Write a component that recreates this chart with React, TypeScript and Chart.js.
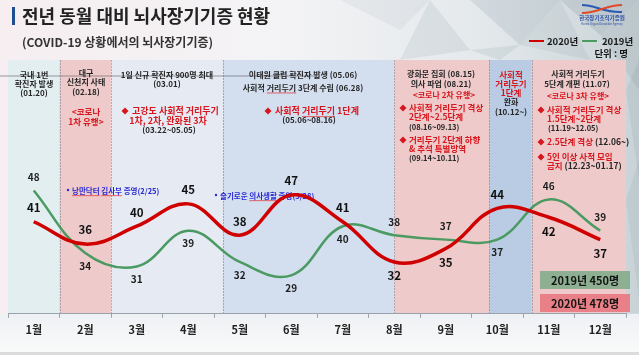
import React, { useEffect, useRef } from "react";
import { Chart, registerables } from "chart.js";
Chart.register(...registerables);

const FONT = '"Noto Sans CJK KR", "Noto Sans", sans-serif';

// ---- data ----
const months = ["1월", "2월", "3월", "4월", "5월", "6월", "7월", "8월", "9월", "10월", "11월", "12월"];
const donors2020 = [41, 36, 40, 45, 38, 47, 41, 32, 35, 44, 42, 37];
const donors2019 = [48, 34, 31, 39, 32, 29, 40, 38, 37, 37, 46, 39];
const labelSide2020 = ["up", "up", "up", "up", "up", "up", "up", "down", "down", "up", "down", "down"];
const labelSide2019 = ["up", "down", "down", "down", "down", "down", "down", "up", "up", "down", "up", "up"];

// COVID-19 periods (in month-index units) and their shading
const periodStart = [-0.5, 0.5, 1.5, 3.67, 7.0, 8.84, 9.67];
const periodEnd = [0.5, 1.5, 3.67, 7.0, 8.84, 9.67, 11.5];
const periodColors = ["#e2eef0", "#eecaca", "#e6eaf3", "#d3deef", "#efcacb", "#b9cce3", "#efcacb"];

const D = "#262626";
const R = "#d8161d";
const B = "#2a2ad4";

type Part = [string, string, boolean?];
type Note = { x: number; y: number; align: "left" | "center"; size: number; parts: Part[] };

const notes: Note[] = [
  { x: 34, y: 75, align: "center", size: 8, parts: [["국내 1번", D]] },
  { x: 34, y: 84, align: "center", size: 8, parts: [["확진자 발생", D]] },
  { x: 34, y: 93, align: "center", size: 8, parts: [["(01.20)", D]] },

  { x: 86, y: 73, align: "center", size: 8, parts: [["대구", D]] },
  { x: 86, y: 82, align: "center", size: 8, parts: [["신천지 사태", D]] },
  { x: 86, y: 92, align: "center", size: 8, parts: [["(02.18)", D]] },
  { x: 86, y: 112, align: "center", size: 8.5, parts: [["<코로나", R]] },
  { x: 86, y: 122, align: "center", size: 8.5, parts: [["1차 유행>", R]] },

  { x: 167, y: 75, align: "center", size: 8, parts: [["1일 신규 확진자 900명 최대", D]] },
  { x: 167, y: 84, align: "center", size: 8, parts: [["(03.01)", D]] },
  { x: 132, y: 111, align: "left", size: 9, parts: [["고강도 사회적 거리두기", R]] },
  { x: 168, y: 121, align: "center", size: 9, parts: [["1차, 2차, 완화된 3차", R]] },
  { x: 169, y: 130, align: "center", size: 8, parts: [["(03.22~05.05)", D]] },

  { x: 303, y: 75, align: "center", size: 8, parts: [["이태원 클럽 확진자 발생 (05.06)", D]] },
  { x: 303, y: 88, align: "center", size: 8, parts: [["사회적 ", D], ["거리두기", D, true], [" 3단계 수립 (06.28)", D]] },
  { x: 275, y: 111, align: "left", size: 9, parts: [["사회적 ", R], ["거리두기", R, true], [" 1단계", R]] },
  { x: 309, y: 120, align: "center", size: 8, parts: [["(05.06~08.16)", D]] },

  { x: 441, y: 74, align: "center", size: 8, parts: [["광화문 집회 (08.15)", D]] },
  { x: 441, y: 84, align: "center", size: 8, parts: [["의사 파업 (08.21)", D]] },
  { x: 444, y: 95, align: "center", size: 8, parts: [["<코로나 2차 유행>", R]] },
  { x: 409, y: 108, align: "left", size: 8.5, parts: [["사회적 거리두기 격상", R]] },
  { x: 409, y: 117, align: "left", size: 8.5, parts: [["2단계~2.5단계", R]] },
  { x: 409, y: 127, align: "left", size: 7.5, parts: [["(08.16~09.13)", D]] },
  { x: 409, y: 140, align: "left", size: 8.5, parts: [["거리두기 2단계 하향", R]] },
  { x: 409, y: 149, align: "left", size: 8.5, parts: [["& 추석 특별방역", R]] },
  { x: 409, y: 158, align: "left", size: 7.5, parts: [["(09.14~10.11)", D]] },

  { x: 511, y: 75, align: "center", size: 8.5, parts: [["사회적", R]] },
  { x: 511, y: 84, align: "center", size: 8.5, parts: [["거리두기", R]] },
  { x: 511, y: 93, align: "center", size: 8.5, parts: [["1단계", R]] },
  { x: 511, y: 102, align: "center", size: 8, parts: [["완화", D]] },
  { x: 511, y: 112, align: "center", size: 8, parts: [["(10.12~)", D]] },

  { x: 578, y: 74, align: "center", size: 8, parts: [["사회적 거리두기", D]] },
  { x: 577, y: 84, align: "center", size: 8, parts: [["5단계 개편 (11.07)", D]] },
  { x: 578, y: 96, align: "center", size: 8, parts: [["<코로나 3차 유행>", R]] },
  { x: 547, y: 110, align: "left", size: 8.5, parts: [["사회적 거리두기 격상", R]] },
  { x: 547, y: 119, align: "left", size: 8.5, parts: [["1.5단계~2단계", R]] },
  { x: 548, y: 128, align: "left", size: 7.5, parts: [["(11.19~12.05)", D]] },
  { x: 547, y: 142, align: "left", size: 8.5, parts: [["2.5단계 격상 ", R], ["(12.06~)", D]] },
  { x: 547, y: 157, align: "left", size: 8.5, parts: [["5인 이상 사적 모임", R]] },
  { x: 547, y: 166, align: "left", size: 8.5, parts: [["금지 ", R], ["(12.23~01.17)", D]] },

  { x: 72, y: 191, align: "left", size: 7.5, parts: [["낭만닥터", B, true], [" ", B], ["김사부", B, true], [" 종영(2/25)", B]] },
  { x: 220, y: 196, align: "left", size: 7.5, parts: [["슬기로운 ", B], ["의사생활", B, true], [" 종영(5/28)", B]] },
];

const diamonds: [number, number][] = [
  [125, 111], [268, 111], [403, 108], [403, 140], [541, 110], [541, 142], [541, 157],
];
const blueDots: [number, number][] = [[68, 190], [216, 195]];

function fnt(size: number, weight = "bold") {
  return `${weight} ${size}px ${FONT}`;
}

function drawNote(ctx: CanvasRenderingContext2D, n: Note) {
  ctx.font = fnt(n.size);
  ctx.textBaseline = "middle";
  ctx.textAlign = "left";
  const widths = n.parts.map((p) => ctx.measureText(p[0]).width);
  const total = widths.reduce((a, b) => a + b, 0);
  let cx = n.align === "center" ? n.x - total / 2 : n.x;
  n.parts.forEach((p, i) => {
    ctx.fillStyle = p[1];
    ctx.fillText(p[0], cx, n.y);
    if (p[2]) {
      ctx.strokeStyle = "rgba(230,40,40,0.85)";
      ctx.lineWidth = 0.8;
      ctx.beginPath();
      ctx.moveTo(cx, n.y + n.size * 0.62);
      ctx.lineTo(cx + widths[i], n.y + n.size * 0.62);
      ctx.stroke();
    }
    cx += widths[i];
  });
}

const deco = {
  id: "deco",
  beforeDraw(chart: any) {
    const { ctx, chartArea: ca, scales } = chart;
    const x = scales.x;
    const W = chart.width, H = chart.height;
    ctx.save();
    // page background
    const g = ctx.createLinearGradient(0, 0, W, 0);
    g.addColorStop(0, "#f6eef0");
    g.addColorStop(0.45, "#f3f3f5");
    g.addColorStop(0.75, "#e4e9ec");
    g.addColorStop(1, "#c9d3d7");
    ctx.fillStyle = g;
    ctx.fillRect(0, 0, W, H);
    // faceted triangles top right
    const tris: number[][][] = [
      [[340, 0], [430, 0], [400, 30]],
      [[430, 0], [470, 50], [400, 60]],
      [[470, 0], [560, 0], [520, 45]],
      [[520, 45], [560, 0], [590, 60]],
      [[560, 0], [639, 0], [600, 35]],
      [[600, 35], [639, 0], [639, 90]],
      [[626, 90], [639, 60], [639, 180]],
      [[626, 200], [639, 160], [639, 300]],
      [[470, 50], [520, 45], [500, 60]],
    ];
    const alphas = [0.08, 0.12, 0.15, 0.1, 0.18, 0.14, 0.12, 0.1, 0.12];
    tris.forEach((t, i) => {
      ctx.fillStyle = `rgba(110,130,140,${alphas[i]})`;
      ctx.beginPath();
      ctx.moveTo(t[0][0], t[0][1]);
      ctx.lineTo(t[1][0], t[1][1]);
      ctx.lineTo(t[2][0], t[2][1]);
      ctx.closePath();
      ctx.fill();
    });
    // lower area (below axis)
    const g2 = ctx.createLinearGradient(0, ca.bottom, 0, H);
    g2.addColorStop(0, "#eef1f4");
    g2.addColorStop(1, "#fafafa");
    ctx.fillStyle = g2;
    ctx.fillRect(0, ca.bottom, W, H - ca.bottom);
    ctx.fillStyle = "#dcdcdc";
    ctx.fillRect(0, H - 3, W, 3);

    // title
    ctx.fillStyle = "#1f4e8c";
    ctx.fillRect(12, 7, 3, 18);
    ctx.fillStyle = "#222";
    ctx.textBaseline = "middle";
    ctx.textAlign = "left";
    ctx.font = fnt(18);
    ctx.fillText("전년 동월 대비 뇌사장기기증 현황", 22, 16);
    ctx.fillStyle = "#333";
    ctx.font = fnt(12);
    ctx.fillText("(COVID-19 상황에서의 뇌사장기기증)", 22, 42);

    // logo
    ctx.lineWidth = 2;
    ctx.strokeStyle = "#2b5bb5";
    ctx.beginPath();
    ctx.moveTo(582, 5);
    ctx.bezierCurveTo(595, 5, 605, 13, 622, 12);
    ctx.stroke();
    ctx.strokeStyle = "#e04a2a";
    ctx.beginPath();
    ctx.moveTo(582, 13);
    ctx.bezierCurveTo(598, 13, 606, 5, 622, 5);
    ctx.stroke();
    ctx.fillStyle = "#2b4fa8";
    ctx.textAlign = "center";
    ctx.font = fnt(5.5);
    ctx.fillText("한국장기조직기증원", 602, 18);
    ctx.font = fnt(3, "normal");
    ctx.fillText("Korea Organ Donation Agency", 602, 24);

    // legend
    ctx.lineWidth = 2;
    ctx.strokeStyle = "#d00000";
    ctx.beginPath(); ctx.moveTo(529, 41); ctx.lineTo(544, 41); ctx.stroke();
    ctx.strokeStyle = "#4a9a62";
    ctx.beginPath(); ctx.moveTo(582, 41); ctx.lineTo(597, 41); ctx.stroke();
    ctx.fillStyle = "#1a1a1a";
    ctx.textAlign = "left";
    ctx.font = fnt(9.5);
    ctx.fillText("2020년", 547, 41);
    ctx.fillText("2019년", 602, 41);
    ctx.textAlign = "right";
    ctx.fillText("단위 : 명", 628, 53);

    // period bands
    periodStart.forEach((s, i) => {
      const x0 = x.getPixelForValue(s);
      const x1 = x.getPixelForValue(periodEnd[i]);
      ctx.fillStyle = periodColors[i];
      ctx.fillRect(x0, ca.top, x1 - x0, ca.bottom - ca.top);
    });
    ctx.strokeStyle = "rgba(120,125,140,0.55)";
    ctx.lineWidth = 1;
    ctx.setLineDash([2, 1]);
    periodStart.slice(1).forEach((s) => {
      const px = Math.round(x.getPixelForValue(s)) + 0.5;
      ctx.beginPath(); ctx.moveTo(px, ca.top); ctx.lineTo(px, ca.bottom); ctx.stroke();
    });
    ctx.setLineDash([]);

    // stray horizontal line from the slide
    ctx.strokeStyle = "rgba(90,90,100,0.75)";
    ctx.lineWidth = 0.8;
    ctx.beginPath(); ctx.moveTo(0, 76); ctx.lineTo(318, 76); ctx.stroke();
    ctx.fillStyle = "#fff";
    ctx.beginPath(); ctx.arc(318, 76, 1.8, 0, Math.PI * 2); ctx.fill(); ctx.stroke();
    ctx.restore();
  },
  beforeDatasetsDraw(chart: any) {
    const { ctx } = chart;
    ctx.save();
    notes.forEach((n) => drawNote(ctx, n));
    ctx.fillStyle = R;
    diamonds.forEach(([dx, dy]) => {
      ctx.beginPath();
      ctx.moveTo(dx, dy - 3.5); ctx.lineTo(dx + 3.5, dy); ctx.lineTo(dx, dy + 3.5); ctx.lineTo(dx - 3.5, dy);
      ctx.closePath(); ctx.fill();
    });
    ctx.fillStyle = B;
    blueDots.forEach(([dx, dy]) => {
      ctx.beginPath(); ctx.arc(dx, dy, 1.2, 0, Math.PI * 2); ctx.fill();
    });
    ctx.restore();
  },
  afterDatasetsDraw(chart: any) {
    const { ctx } = chart;
    ctx.save();
    ctx.textAlign = "center";
    ctx.textBaseline = "middle";
    const m0 = chart.getDatasetMeta(0).data;
    const m1 = chart.getDatasetMeta(1).data;
    ctx.fillStyle = "#111";
    ctx.font = fnt(11.5);
    donors2020.forEach((v, i) => {
      const p = m0[i];
      ctx.fillText(String(v), p.x, p.y + (labelSide2020[i] === "up" ? -14 : 14));
    });
    ctx.fillStyle = "#1e1e1e";
    ctx.font = fnt(10);
    donors2019.forEach((v, i) => {
      const p = m1[i];
      ctx.fillText(String(v), p.x, p.y + (labelSide2019[i] === "up" ? -13 : 13));
    });
    // totals
    const sum19 = donors2019.reduce((a, b) => a + b, 0);
    const sum20 = donors2020.reduce((a, b) => a + b, 0);
    ctx.fillStyle = "rgba(125,170,135,0.85)";
    ctx.fillRect(540, 271, 90, 18);
    ctx.fillStyle = "rgba(232,120,128,0.9)";
    ctx.fillRect(540, 294, 90, 18);
    ctx.fillStyle = "#141414";
    ctx.font = fnt(11);
    ctx.fillText(`2019년 ${sum19}명`, 585, 280.5);
    ctx.fillText(`2020년 ${sum20}명`, 585, 303.5);
    ctx.restore();
  },
};

export default function App() {
  const ref = useRef<HTMLCanvasElement | null>(null);
  useEffect(() => {
    if (!ref.current) return;
    const chart = new Chart(ref.current, {
      type: "line",
      data: {
        labels: months,
        datasets: [
          { label: "2020년", data: donors2020, borderColor: "#d00000", borderWidth: 3.5, pointRadius: 0, tension: 0.4, fill: false },
          { label: "2019년", data: donors2019, borderColor: "#4a9a62", borderWidth: 2.5, pointRadius: 0, tension: 0.4, fill: false },
        ],
      },
      options: {
        responsive: false,
        animation: false,
        layout: { padding: { left: 8, right: 13, top: 60, bottom: 14 } },
        plugins: { legend: { display: false }, tooltip: { enabled: false } },
        scales: {
          x: {
            offset: true,
            grid: { display: true, drawOnChartArea: false, drawTicks: true, tickLength: 4, color: "#9aa3ad", offset: true },
            border: { display: true, color: "#9aa3ad", width: 1 },
            ticks: { color: "#222", font: { family: FONT, size: 11, weight: "bold" }, padding: 5, autoSkip: false, maxRotation: 0 },
          },
          y: { display: false, min: 20.4, max: 77.2 },
        },
      },
      plugins: [deco],
    });
    return () => chart.destroy();
  }, []);
  return (
    <div style={{ position: "absolute", left: 0, top: 0, width: 639, height: 355 }}>
      <canvas ref={ref} width={639} height={355} />
    </div>
  );
}
